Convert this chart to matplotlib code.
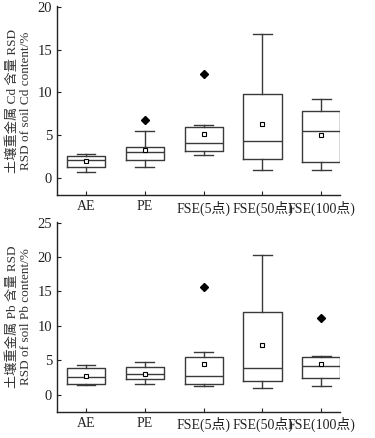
import matplotlib.pyplot as plt

plt.rcParams['font.family'] = ['Liberation Serif', 'Noto Sans CJK SC']

groups = ['AE', 'PE', 'FSE(5点)', 'FSE(50点)', 'FSE(100点)']

# Cd: whisker low, q1, median, q3, whisker high, mean, outliers
cd_wlo = [0.66, 1.28, 2.65, 0.9, 0.86]
cd_q1 = [1.28, 2.1, 3.15, 2.22, 1.83]
cd_med = [2.1, 3.0, 4.09, 4.32, 5.49]
cd_q3 = [2.53, 3.58, 5.95, 9.77, 7.86]
cd_whi = [2.76, 5.45, 6.19, 16.8, 9.22]
cd_mean = [1.95, 3.27, 5.14, 6.3, 5.02]
cd_out = [[], [6.73], [12.14], [], []]

# Pb
pb_wlo = [1.45, 1.6, 1.26, 0.92, 1.31]
pb_q1 = [1.5, 2.33, 1.5, 1.94, 2.43]
pb_med = [2.57, 3.06, 2.72, 3.93, 4.13]
pb_q3 = [3.93, 4.03, 5.49, 12.04, 5.49]
pb_whi = [4.37, 4.76, 6.26, 20.24, 5.63]
pb_mean = [2.77, 3.06, 4.51, 7.14, 4.51]
pb_out = [[], [], [15.68], [], [11.07]]


def make_stats(wlo, q1, med, q3, whi, mean, out):
    stats = []
    for i in range(len(groups)):
        stats.append(dict(whislo=wlo[i], q1=q1[i], med=med[i], q3=q3[i],
                          whishi=whi[i], mean=mean[i], fliers=out[i]))
    return stats


fig = plt.figure(figsize=(3.75, 4.38), dpi=100)
ax1 = fig.add_axes([0.152, 0.555, 0.755, 0.431])
ax2 = fig.add_axes([0.152, 0.060, 0.755, 0.433])

lc = '#3a3a3a'
props = dict(color=lc, linewidth=1.0)

panels = [
    (ax1, make_stats(cd_wlo, cd_q1, cd_med, cd_q3, cd_whi, cd_mean, cd_out),
     (-2, 20.1), range(0, 21, 5), '土壤重金属 Cd 含量 RSD\nRSD of soil Cd content/%'),
    (ax2, make_stats(pb_wlo, pb_q1, pb_med, pb_q3, pb_whi, pb_mean, pb_out),
     (-2.5, 25.1), range(0, 26, 5), '土壤重金属 Pb 含量 RSD\nRSD of soil Pb content/%'),
]

for ax, stats, ylim, yt, lab in panels:
    ax.bxp(stats, positions=range(1, 6), widths=0.65, showmeans=True,
           boxprops=props, whiskerprops=props, capprops=props,
           medianprops=props, capwidths=0.32,
           meanprops=dict(marker='s', markersize=3, markerfacecolor='white',
                          markeredgecolor='black', markeredgewidth=0.8),
           flierprops=dict(marker='D', markersize=4, markerfacecolor='black',
                           markeredgecolor='black'))
    ax.set_xlim(0.506, 5.32)
    ax.set_ylim(*ylim)
    ax.set_yticks(list(yt))
    ax.set_xticks(range(1, 6))
    ax.set_xticklabels(groups)
    ax.spines['top'].set_visible(False)
    ax.spines['right'].set_visible(False)
    for s in ['left', 'bottom']:
        ax.spines[s].set_color('#222222')
        ax.spines[s].set_linewidth(1.0)
    ax.tick_params(direction='in', length=3, width=0.8, labelsize=10.5,
                   colors='#222222')
    ax.tick_params(axis='x', pad=4, labelsize=10)
    ax.set_ylabel(lab, fontsize=9.5, color='#333333', linespacing=1.15, labelpad=4)

fig.savefig('out.png', dpi=100)
